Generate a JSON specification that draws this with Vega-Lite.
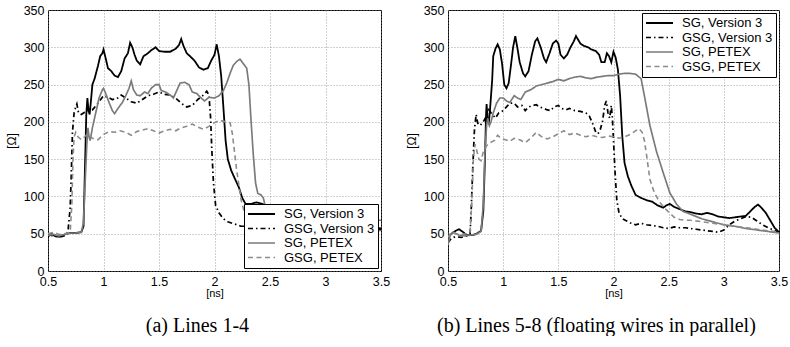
{
"$schema": "https://vega.github.io/schema/vega-lite/v6.json",
"autosize": {"type": "pad"},
"padding": {"left": 4, "top": 3, "right": 0, "bottom": 0},
"background": "white",
"config": {
  "font": "Liberation Sans",
  "view": {"stroke": "black", "strokeWidth": 1},
  "axis": {"grid": true, "gridColor": "#8a8a8a", "gridDash": [1, 2], "gridWidth": 0.8, "domain": false, "ticks": false, "labelFont": "Liberation Sans", "labelFontSize": 12.5, "labelColor": "black", "titleFont": "Liberation Sans", "titleFontWeight": "normal", "titleColor": "black", "labelOverlap": false, "labelFlush": false},
  "axisX": {"labelPadding": 4, "titleFontSize": 11, "titlePadding": 0},
  "axisY": {"labelPadding": 4, "titleFontSize": 12, "titlePadding": 5},
  "legend": {"title": null, "fillColor": "white", "strokeColor": "black", "padding": 3, "labelFont": "Liberation Sans", "labelFontSize": 13, "labelColor": "black", "symbolType": "stroke", "symbolSize": 729, "clipHeight": 14, "labelOffset": 8, "rowPadding": 0.5, "offset": 3},
  "title": {"font": "Liberation Serif", "fontSize": 20, "fontWeight": "normal", "color": "black"}
},
"datasets": {
"a": [
{"s":"SG, Version 3","t":0.5,"v":46},{"s":"SG, Version 3","t":0.53,"v":50},{"s":"SG, Version 3","t":0.56,"v":47},{"s":"SG, Version 3","t":0.6,"v":46},{"s":"SG, Version 3","t":0.65,"v":49},{"s":"SG, Version 3","t":0.7,"v":51},{"s":"SG, Version 3","t":0.75,"v":51},{"s":"SG, Version 3","t":0.8,"v":52},{"s":"SG, Version 3","t":0.82,"v":60},{"s":"SG, Version 3","t":0.835,"v":150},{"s":"SG, Version 3","t":0.845,"v":210},{"s":"SG, Version 3","t":0.855,"v":232},{"s":"SG, Version 3","t":0.865,"v":215},{"s":"SG, Version 3","t":0.875,"v":210},{"s":"SG, Version 3","t":0.885,"v":225},{"s":"SG, Version 3","t":0.9,"v":250},{"s":"SG, Version 3","t":0.92,"v":258},{"s":"SG, Version 3","t":0.95,"v":275},{"s":"SG, Version 3","t":0.97,"v":288},{"s":"SG, Version 3","t":0.99,"v":292},{"s":"SG, Version 3","t":1.0,"v":297},{"s":"SG, Version 3","t":1.02,"v":285},{"s":"SG, Version 3","t":1.04,"v":272},{"s":"SG, Version 3","t":1.07,"v":268},{"s":"SG, Version 3","t":1.1,"v":262},{"s":"SG, Version 3","t":1.13,"v":260},{"s":"SG, Version 3","t":1.16,"v":268},{"s":"SG, Version 3","t":1.19,"v":285},{"s":"SG, Version 3","t":1.22,"v":292},{"s":"SG, Version 3","t":1.24,"v":306},{"s":"SG, Version 3","t":1.26,"v":300},{"s":"SG, Version 3","t":1.28,"v":290},{"s":"SG, Version 3","t":1.3,"v":282},{"s":"SG, Version 3","t":1.33,"v":277},{"s":"SG, Version 3","t":1.36,"v":288},{"s":"SG, Version 3","t":1.4,"v":292},{"s":"SG, Version 3","t":1.43,"v":296},{"s":"SG, Version 3","t":1.47,"v":300},{"s":"SG, Version 3","t":1.5,"v":295},{"s":"SG, Version 3","t":1.55,"v":294},{"s":"SG, Version 3","t":1.6,"v":294},{"s":"SG, Version 3","t":1.65,"v":298},{"s":"SG, Version 3","t":1.68,"v":303},{"s":"SG, Version 3","t":1.7,"v":311},{"s":"SG, Version 3","t":1.72,"v":302},{"s":"SG, Version 3","t":1.75,"v":292},{"s":"SG, Version 3","t":1.78,"v":288},{"s":"SG, Version 3","t":1.82,"v":282},{"s":"SG, Version 3","t":1.86,"v":273},{"s":"SG, Version 3","t":1.9,"v":270},{"s":"SG, Version 3","t":1.94,"v":272},{"s":"SG, Version 3","t":1.97,"v":282},{"s":"SG, Version 3","t":2.0,"v":290},{"s":"SG, Version 3","t":2.02,"v":304},{"s":"SG, Version 3","t":2.04,"v":288},{"s":"SG, Version 3","t":2.06,"v":262},{"s":"SG, Version 3","t":2.08,"v":220},{"s":"SG, Version 3","t":2.1,"v":175},{"s":"SG, Version 3","t":2.12,"v":150},{"s":"SG, Version 3","t":2.15,"v":135},{"s":"SG, Version 3","t":2.18,"v":125},{"s":"SG, Version 3","t":2.22,"v":112},{"s":"SG, Version 3","t":2.25,"v":98},{"s":"SG, Version 3","t":2.28,"v":90},{"s":"SG, Version 3","t":2.33,"v":90},{"s":"SG, Version 3","t":2.38,"v":92},{"s":"SG, Version 3","t":2.43,"v":90},{"s":"SG, Version 3","t":2.5,"v":85},{"s":"SG, Version 3","t":2.7,"v":78},{"s":"SG, Version 3","t":2.9,"v":72},{"s":"SG, Version 3","t":3.1,"v":68},{"s":"SG, Version 3","t":3.3,"v":62},{"s":"SG, Version 3","t":3.5,"v":57},
{"s":"GSG, Version 3","t":0.5,"v":50},{"s":"GSG, Version 3","t":0.54,"v":47},{"s":"GSG, Version 3","t":0.58,"v":46},{"s":"GSG, Version 3","t":0.62,"v":46},{"s":"GSG, Version 3","t":0.66,"v":48},{"s":"GSG, Version 3","t":0.68,"v":53},{"s":"GSG, Version 3","t":0.7,"v":85},{"s":"GSG, Version 3","t":0.71,"v":130},{"s":"GSG, Version 3","t":0.72,"v":185},{"s":"GSG, Version 3","t":0.735,"v":212},{"s":"GSG, Version 3","t":0.75,"v":220},{"s":"GSG, Version 3","t":0.76,"v":224},{"s":"GSG, Version 3","t":0.775,"v":212},{"s":"GSG, Version 3","t":0.8,"v":210},{"s":"GSG, Version 3","t":0.83,"v":213},{"s":"GSG, Version 3","t":0.86,"v":215},{"s":"GSG, Version 3","t":0.9,"v":216},{"s":"GSG, Version 3","t":0.95,"v":225},{"s":"GSG, Version 3","t":1.0,"v":235},{"s":"GSG, Version 3","t":1.04,"v":233},{"s":"GSG, Version 3","t":1.08,"v":230},{"s":"GSG, Version 3","t":1.12,"v":231},{"s":"GSG, Version 3","t":1.16,"v":236},{"s":"GSG, Version 3","t":1.2,"v":232},{"s":"GSG, Version 3","t":1.25,"v":227},{"s":"GSG, Version 3","t":1.3,"v":225},{"s":"GSG, Version 3","t":1.35,"v":230},{"s":"GSG, Version 3","t":1.4,"v":235},{"s":"GSG, Version 3","t":1.45,"v":237},{"s":"GSG, Version 3","t":1.5,"v":240},{"s":"GSG, Version 3","t":1.55,"v":237},{"s":"GSG, Version 3","t":1.6,"v":236},{"s":"GSG, Version 3","t":1.65,"v":232},{"s":"GSG, Version 3","t":1.7,"v":225},{"s":"GSG, Version 3","t":1.75,"v":220},{"s":"GSG, Version 3","t":1.8,"v":222},{"s":"GSG, Version 3","t":1.85,"v":230},{"s":"GSG, Version 3","t":1.9,"v":236},{"s":"GSG, Version 3","t":1.93,"v":241},{"s":"GSG, Version 3","t":1.95,"v":236},{"s":"GSG, Version 3","t":1.965,"v":205},{"s":"GSG, Version 3","t":1.975,"v":165},{"s":"GSG, Version 3","t":1.99,"v":120},{"s":"GSG, Version 3","t":2.01,"v":88},{"s":"GSG, Version 3","t":2.04,"v":78},{"s":"GSG, Version 3","t":2.08,"v":70},{"s":"GSG, Version 3","t":2.12,"v":66},{"s":"GSG, Version 3","t":2.18,"v":63},{"s":"GSG, Version 3","t":2.24,"v":60},{"s":"GSG, Version 3","t":2.3,"v":60},{"s":"GSG, Version 3","t":2.5,"v":60},{"s":"GSG, Version 3","t":2.7,"v":58},{"s":"GSG, Version 3","t":2.9,"v":57},{"s":"GSG, Version 3","t":3.1,"v":56},{"s":"GSG, Version 3","t":3.3,"v":55},{"s":"GSG, Version 3","t":3.5,"v":55},
{"s":"SG, PETEX","t":0.5,"v":48},{"s":"SG, PETEX","t":0.55,"v":49},{"s":"SG, PETEX","t":0.6,"v":47},{"s":"SG, PETEX","t":0.65,"v":49},{"s":"SG, PETEX","t":0.7,"v":51},{"s":"SG, PETEX","t":0.75,"v":51},{"s":"SG, PETEX","t":0.8,"v":52},{"s":"SG, PETEX","t":0.82,"v":65},{"s":"SG, PETEX","t":0.835,"v":120},{"s":"SG, PETEX","t":0.85,"v":170},{"s":"SG, PETEX","t":0.86,"v":192},{"s":"SG, PETEX","t":0.87,"v":180},{"s":"SG, PETEX","t":0.88,"v":175},{"s":"SG, PETEX","t":0.9,"v":192},{"s":"SG, PETEX","t":0.93,"v":212},{"s":"SG, PETEX","t":0.96,"v":232},{"s":"SG, PETEX","t":0.99,"v":243},{"s":"SG, PETEX","t":1.0,"v":245},{"s":"SG, PETEX","t":1.02,"v":238},{"s":"SG, PETEX","t":1.05,"v":226},{"s":"SG, PETEX","t":1.08,"v":215},{"s":"SG, PETEX","t":1.1,"v":211},{"s":"SG, PETEX","t":1.13,"v":218},{"s":"SG, PETEX","t":1.17,"v":226},{"s":"SG, PETEX","t":1.2,"v":235},{"s":"SG, PETEX","t":1.23,"v":245},{"s":"SG, PETEX","t":1.25,"v":255},{"s":"SG, PETEX","t":1.27,"v":243},{"s":"SG, PETEX","t":1.3,"v":236},{"s":"SG, PETEX","t":1.33,"v":235},{"s":"SG, PETEX","t":1.37,"v":240},{"s":"SG, PETEX","t":1.4,"v":238},{"s":"SG, PETEX","t":1.43,"v":245},{"s":"SG, PETEX","t":1.47,"v":250},{"s":"SG, PETEX","t":1.5,"v":250},{"s":"SG, PETEX","t":1.52,"v":242},{"s":"SG, PETEX","t":1.56,"v":240},{"s":"SG, PETEX","t":1.6,"v":236},{"s":"SG, PETEX","t":1.63,"v":232},{"s":"SG, PETEX","t":1.66,"v":242},{"s":"SG, PETEX","t":1.69,"v":252},{"s":"SG, PETEX","t":1.73,"v":253},{"s":"SG, PETEX","t":1.77,"v":250},{"s":"SG, PETEX","t":1.8,"v":240},{"s":"SG, PETEX","t":1.84,"v":238},{"s":"SG, PETEX","t":1.88,"v":232},{"s":"SG, PETEX","t":1.91,"v":228},{"s":"SG, PETEX","t":1.95,"v":233},{"s":"SG, PETEX","t":2.0,"v":232},{"s":"SG, PETEX","t":2.04,"v":235},{"s":"SG, PETEX","t":2.08,"v":242},{"s":"SG, PETEX","t":2.11,"v":252},{"s":"SG, PETEX","t":2.14,"v":265},{"s":"SG, PETEX","t":2.17,"v":276},{"s":"SG, PETEX","t":2.2,"v":281},{"s":"SG, PETEX","t":2.23,"v":284},{"s":"SG, PETEX","t":2.26,"v":278},{"s":"SG, PETEX","t":2.29,"v":272},{"s":"SG, PETEX","t":2.31,"v":250},{"s":"SG, PETEX","t":2.33,"v":200},{"s":"SG, PETEX","t":2.35,"v":155},{"s":"SG, PETEX","t":2.37,"v":118},{"s":"SG, PETEX","t":2.39,"v":104},{"s":"SG, PETEX","t":2.42,"v":102},{"s":"SG, PETEX","t":2.44,"v":98},{"s":"SG, PETEX","t":2.46,"v":85},{"s":"SG, PETEX","t":2.5,"v":78},{"s":"SG, PETEX","t":2.7,"v":75},{"s":"SG, PETEX","t":2.9,"v":72},{"s":"SG, PETEX","t":3.1,"v":70},{"s":"SG, PETEX","t":3.3,"v":69},{"s":"SG, PETEX","t":3.5,"v":68},
{"s":"GSG, PETEX","t":0.5,"v":50},{"s":"GSG, PETEX","t":0.55,"v":52},{"s":"GSG, PETEX","t":0.6,"v":49},{"s":"GSG, PETEX","t":0.65,"v":50},{"s":"GSG, PETEX","t":0.7,"v":52},{"s":"GSG, PETEX","t":0.715,"v":90},{"s":"GSG, PETEX","t":0.725,"v":150},{"s":"GSG, PETEX","t":0.735,"v":180},{"s":"GSG, PETEX","t":0.75,"v":186},{"s":"GSG, PETEX","t":0.77,"v":180},{"s":"GSG, PETEX","t":0.8,"v":176},{"s":"GSG, PETEX","t":0.83,"v":180},{"s":"GSG, PETEX","t":0.86,"v":184},{"s":"GSG, PETEX","t":0.9,"v":178},{"s":"GSG, PETEX","t":0.95,"v":176},{"s":"GSG, PETEX","t":1.0,"v":183},{"s":"GSG, PETEX","t":1.05,"v":187},{"s":"GSG, PETEX","t":1.1,"v":186},{"s":"GSG, PETEX","t":1.15,"v":188},{"s":"GSG, PETEX","t":1.2,"v":186},{"s":"GSG, PETEX","t":1.25,"v":182},{"s":"GSG, PETEX","t":1.3,"v":187},{"s":"GSG, PETEX","t":1.35,"v":189},{"s":"GSG, PETEX","t":1.4,"v":191},{"s":"GSG, PETEX","t":1.45,"v":188},{"s":"GSG, PETEX","t":1.5,"v":185},{"s":"GSG, PETEX","t":1.55,"v":188},{"s":"GSG, PETEX","t":1.6,"v":190},{"s":"GSG, PETEX","t":1.65,"v":188},{"s":"GSG, PETEX","t":1.7,"v":192},{"s":"GSG, PETEX","t":1.75,"v":194},{"s":"GSG, PETEX","t":1.8,"v":197},{"s":"GSG, PETEX","t":1.85,"v":193},{"s":"GSG, PETEX","t":1.9,"v":190},{"s":"GSG, PETEX","t":1.95,"v":194},{"s":"GSG, PETEX","t":2.0,"v":199},{"s":"GSG, PETEX","t":2.05,"v":202},{"s":"GSG, PETEX","t":2.1,"v":200},{"s":"GSG, PETEX","t":2.14,"v":199},{"s":"GSG, PETEX","t":2.16,"v":185},{"s":"GSG, PETEX","t":2.18,"v":160},{"s":"GSG, PETEX","t":2.2,"v":135},{"s":"GSG, PETEX","t":2.22,"v":115},{"s":"GSG, PETEX","t":2.24,"v":95},{"s":"GSG, PETEX","t":2.27,"v":78},{"s":"GSG, PETEX","t":2.3,"v":68},{"s":"GSG, PETEX","t":2.35,"v":63},{"s":"GSG, PETEX","t":2.5,"v":60},{"s":"GSG, PETEX","t":2.7,"v":58},{"s":"GSG, PETEX","t":2.9,"v":57},{"s":"GSG, PETEX","t":3.1,"v":56},{"s":"GSG, PETEX","t":3.3,"v":55},{"s":"GSG, PETEX","t":3.5,"v":54}
],
"b": [
{"s":"SG, Version 3","t":0.5,"v":45},{"s":"SG, Version 3","t":0.53,"v":50},{"s":"SG, Version 3","t":0.57,"v":54},{"s":"SG, Version 3","t":0.6,"v":56},{"s":"SG, Version 3","t":0.63,"v":53},{"s":"SG, Version 3","t":0.67,"v":48},{"s":"SG, Version 3","t":0.72,"v":48},{"s":"SG, Version 3","t":0.76,"v":50},{"s":"SG, Version 3","t":0.8,"v":54},{"s":"SG, Version 3","t":0.82,"v":80},{"s":"SG, Version 3","t":0.835,"v":150},{"s":"SG, Version 3","t":0.845,"v":210},{"s":"SG, Version 3","t":0.85,"v":224},{"s":"SG, Version 3","t":0.86,"v":200},{"s":"SG, Version 3","t":0.87,"v":198},{"s":"SG, Version 3","t":0.88,"v":215},{"s":"SG, Version 3","t":0.9,"v":255},{"s":"SG, Version 3","t":0.91,"v":288},{"s":"SG, Version 3","t":0.93,"v":298},{"s":"SG, Version 3","t":0.95,"v":304},{"s":"SG, Version 3","t":0.97,"v":297},{"s":"SG, Version 3","t":0.99,"v":278},{"s":"SG, Version 3","t":1.01,"v":250},{"s":"SG, Version 3","t":1.03,"v":245},{"s":"SG, Version 3","t":1.05,"v":252},{"s":"SG, Version 3","t":1.07,"v":275},{"s":"SG, Version 3","t":1.09,"v":300},{"s":"SG, Version 3","t":1.11,"v":315},{"s":"SG, Version 3","t":1.13,"v":298},{"s":"SG, Version 3","t":1.15,"v":280},{"s":"SG, Version 3","t":1.18,"v":265},{"s":"SG, Version 3","t":1.2,"v":261},{"s":"SG, Version 3","t":1.23,"v":268},{"s":"SG, Version 3","t":1.26,"v":290},{"s":"SG, Version 3","t":1.29,"v":308},{"s":"SG, Version 3","t":1.31,"v":312},{"s":"SG, Version 3","t":1.34,"v":300},{"s":"SG, Version 3","t":1.37,"v":285},{"s":"SG, Version 3","t":1.39,"v":280},{"s":"SG, Version 3","t":1.42,"v":292},{"s":"SG, Version 3","t":1.45,"v":305},{"s":"SG, Version 3","t":1.48,"v":309},{"s":"SG, Version 3","t":1.5,"v":305},{"s":"SG, Version 3","t":1.52,"v":290},{"s":"SG, Version 3","t":1.55,"v":285},{"s":"SG, Version 3","t":1.58,"v":290},{"s":"SG, Version 3","t":1.61,"v":300},{"s":"SG, Version 3","t":1.64,"v":308},{"s":"SG, Version 3","t":1.66,"v":315},{"s":"SG, Version 3","t":1.68,"v":310},{"s":"SG, Version 3","t":1.7,"v":305},{"s":"SG, Version 3","t":1.73,"v":302},{"s":"SG, Version 3","t":1.77,"v":300},{"s":"SG, Version 3","t":1.8,"v":297},{"s":"SG, Version 3","t":1.84,"v":295},{"s":"SG, Version 3","t":1.87,"v":290},{"s":"SG, Version 3","t":1.89,"v":280},{"s":"SG, Version 3","t":1.92,"v":280},{"s":"SG, Version 3","t":1.94,"v":292},{"s":"SG, Version 3","t":1.96,"v":288},{"s":"SG, Version 3","t":1.98,"v":280},{"s":"SG, Version 3","t":2.0,"v":294},{"s":"SG, Version 3","t":2.02,"v":286},{"s":"SG, Version 3","t":2.04,"v":270},{"s":"SG, Version 3","t":2.06,"v":235},{"s":"SG, Version 3","t":2.08,"v":180},{"s":"SG, Version 3","t":2.1,"v":145},{"s":"SG, Version 3","t":2.13,"v":127},{"s":"SG, Version 3","t":2.16,"v":115},{"s":"SG, Version 3","t":2.2,"v":102},{"s":"SG, Version 3","t":2.25,"v":98},{"s":"SG, Version 3","t":2.3,"v":95},{"s":"SG, Version 3","t":2.35,"v":93},{"s":"SG, Version 3","t":2.4,"v":88},{"s":"SG, Version 3","t":2.45,"v":85},{"s":"SG, Version 3","t":2.48,"v":88},{"s":"SG, Version 3","t":2.51,"v":90},{"s":"SG, Version 3","t":2.55,"v":86},{"s":"SG, Version 3","t":2.6,"v":83},{"s":"SG, Version 3","t":2.65,"v":80},{"s":"SG, Version 3","t":2.7,"v":79},{"s":"SG, Version 3","t":2.75,"v":77},{"s":"SG, Version 3","t":2.8,"v":76},{"s":"SG, Version 3","t":2.85,"v":78},{"s":"SG, Version 3","t":2.9,"v":76},{"s":"SG, Version 3","t":2.95,"v":73},{"s":"SG, Version 3","t":3.0,"v":72},{"s":"SG, Version 3","t":3.05,"v":71},{"s":"SG, Version 3","t":3.1,"v":72},{"s":"SG, Version 3","t":3.15,"v":73},{"s":"SG, Version 3","t":3.2,"v":74},{"s":"SG, Version 3","t":3.24,"v":80},{"s":"SG, Version 3","t":3.28,"v":86},{"s":"SG, Version 3","t":3.31,"v":89},{"s":"SG, Version 3","t":3.34,"v":85},{"s":"SG, Version 3","t":3.38,"v":78},{"s":"SG, Version 3","t":3.42,"v":68},{"s":"SG, Version 3","t":3.46,"v":58},{"s":"SG, Version 3","t":3.5,"v":52},
{"s":"GSG, Version 3","t":0.5,"v":38},{"s":"GSG, Version 3","t":0.53,"v":44},{"s":"GSG, Version 3","t":0.57,"v":46},{"s":"GSG, Version 3","t":0.62,"v":45},{"s":"GSG, Version 3","t":0.67,"v":47},{"s":"GSG, Version 3","t":0.7,"v":50},{"s":"GSG, Version 3","t":0.71,"v":80},{"s":"GSG, Version 3","t":0.725,"v":140},{"s":"GSG, Version 3","t":0.74,"v":190},{"s":"GSG, Version 3","t":0.755,"v":210},{"s":"GSG, Version 3","t":0.77,"v":198},{"s":"GSG, Version 3","t":0.79,"v":195},{"s":"GSG, Version 3","t":0.82,"v":200},{"s":"GSG, Version 3","t":0.85,"v":208},{"s":"GSG, Version 3","t":0.87,"v":216},{"s":"GSG, Version 3","t":0.9,"v":210},{"s":"GSG, Version 3","t":0.93,"v":205},{"s":"GSG, Version 3","t":0.96,"v":212},{"s":"GSG, Version 3","t":1.0,"v":215},{"s":"GSG, Version 3","t":1.03,"v":220},{"s":"GSG, Version 3","t":1.06,"v":225},{"s":"GSG, Version 3","t":1.1,"v":225},{"s":"GSG, Version 3","t":1.13,"v":220},{"s":"GSG, Version 3","t":1.17,"v":222},{"s":"GSG, Version 3","t":1.2,"v":215},{"s":"GSG, Version 3","t":1.23,"v":220},{"s":"GSG, Version 3","t":1.27,"v":222},{"s":"GSG, Version 3","t":1.3,"v":223},{"s":"GSG, Version 3","t":1.33,"v":220},{"s":"GSG, Version 3","t":1.37,"v":218},{"s":"GSG, Version 3","t":1.4,"v":216},{"s":"GSG, Version 3","t":1.43,"v":215},{"s":"GSG, Version 3","t":1.46,"v":220},{"s":"GSG, Version 3","t":1.5,"v":222},{"s":"GSG, Version 3","t":1.53,"v":218},{"s":"GSG, Version 3","t":1.57,"v":216},{"s":"GSG, Version 3","t":1.6,"v":218},{"s":"GSG, Version 3","t":1.65,"v":215},{"s":"GSG, Version 3","t":1.7,"v":214},{"s":"GSG, Version 3","t":1.75,"v":212},{"s":"GSG, Version 3","t":1.78,"v":208},{"s":"GSG, Version 3","t":1.81,"v":198},{"s":"GSG, Version 3","t":1.84,"v":186},{"s":"GSG, Version 3","t":1.86,"v":184},{"s":"GSG, Version 3","t":1.88,"v":190},{"s":"GSG, Version 3","t":1.9,"v":200},{"s":"GSG, Version 3","t":1.92,"v":222},{"s":"GSG, Version 3","t":1.935,"v":228},{"s":"GSG, Version 3","t":1.95,"v":212},{"s":"GSG, Version 3","t":1.965,"v":205},{"s":"GSG, Version 3","t":1.98,"v":222},{"s":"GSG, Version 3","t":1.99,"v":205},{"s":"GSG, Version 3","t":2.0,"v":175},{"s":"GSG, Version 3","t":2.015,"v":130},{"s":"GSG, Version 3","t":2.03,"v":95},{"s":"GSG, Version 3","t":2.05,"v":78},{"s":"GSG, Version 3","t":2.08,"v":70},{"s":"GSG, Version 3","t":2.12,"v":67},{"s":"GSG, Version 3","t":2.16,"v":64},{"s":"GSG, Version 3","t":2.2,"v":62},{"s":"GSG, Version 3","t":2.25,"v":64},{"s":"GSG, Version 3","t":2.3,"v":62},{"s":"GSG, Version 3","t":2.35,"v":61},{"s":"GSG, Version 3","t":2.4,"v":60},{"s":"GSG, Version 3","t":2.45,"v":58},{"s":"GSG, Version 3","t":2.5,"v":57},{"s":"GSG, Version 3","t":2.55,"v":59},{"s":"GSG, Version 3","t":2.6,"v":58},{"s":"GSG, Version 3","t":2.65,"v":58},{"s":"GSG, Version 3","t":2.7,"v":57},{"s":"GSG, Version 3","t":2.75,"v":56},{"s":"GSG, Version 3","t":2.8,"v":55},{"s":"GSG, Version 3","t":2.85,"v":54},{"s":"GSG, Version 3","t":2.9,"v":53},{"s":"GSG, Version 3","t":2.95,"v":52},{"s":"GSG, Version 3","t":3.0,"v":55},{"s":"GSG, Version 3","t":3.05,"v":62},{"s":"GSG, Version 3","t":3.1,"v":67},{"s":"GSG, Version 3","t":3.15,"v":70},{"s":"GSG, Version 3","t":3.2,"v":73},{"s":"GSG, Version 3","t":3.25,"v":72},{"s":"GSG, Version 3","t":3.3,"v":67},{"s":"GSG, Version 3","t":3.35,"v":62},{"s":"GSG, Version 3","t":3.4,"v":58},{"s":"GSG, Version 3","t":3.45,"v":55},{"s":"GSG, Version 3","t":3.5,"v":52},
{"s":"SG, PETEX","t":0.5,"v":35},{"s":"SG, PETEX","t":0.52,"v":48},{"s":"SG, PETEX","t":0.55,"v":52},{"s":"SG, PETEX","t":0.6,"v":48},{"s":"SG, PETEX","t":0.65,"v":47},{"s":"SG, PETEX","t":0.7,"v":48},{"s":"SG, PETEX","t":0.75,"v":49},{"s":"SG, PETEX","t":0.8,"v":53},{"s":"SG, PETEX","t":0.82,"v":90},{"s":"SG, PETEX","t":0.835,"v":160},{"s":"SG, PETEX","t":0.85,"v":195},{"s":"SG, PETEX","t":0.86,"v":205},{"s":"SG, PETEX","t":0.875,"v":195},{"s":"SG, PETEX","t":0.89,"v":200},{"s":"SG, PETEX","t":0.91,"v":212},{"s":"SG, PETEX","t":0.94,"v":225},{"s":"SG, PETEX","t":0.97,"v":232},{"s":"SG, PETEX","t":1.0,"v":232},{"s":"SG, PETEX","t":1.03,"v":228},{"s":"SG, PETEX","t":1.06,"v":226},{"s":"SG, PETEX","t":1.1,"v":235},{"s":"SG, PETEX","t":1.13,"v":232},{"s":"SG, PETEX","t":1.16,"v":230},{"s":"SG, PETEX","t":1.2,"v":240},{"s":"SG, PETEX","t":1.25,"v":243},{"s":"SG, PETEX","t":1.3,"v":248},{"s":"SG, PETEX","t":1.35,"v":250},{"s":"SG, PETEX","t":1.4,"v":252},{"s":"SG, PETEX","t":1.45,"v":254},{"s":"SG, PETEX","t":1.5,"v":257},{"s":"SG, PETEX","t":1.55,"v":255},{"s":"SG, PETEX","t":1.6,"v":258},{"s":"SG, PETEX","t":1.65,"v":260},{"s":"SG, PETEX","t":1.7,"v":261},{"s":"SG, PETEX","t":1.75,"v":259},{"s":"SG, PETEX","t":1.8,"v":258},{"s":"SG, PETEX","t":1.85,"v":260},{"s":"SG, PETEX","t":1.9,"v":261},{"s":"SG, PETEX","t":1.95,"v":262},{"s":"SG, PETEX","t":2.0,"v":262},{"s":"SG, PETEX","t":2.05,"v":264},{"s":"SG, PETEX","t":2.1,"v":265},{"s":"SG, PETEX","t":2.15,"v":265},{"s":"SG, PETEX","t":2.2,"v":264},{"s":"SG, PETEX","t":2.25,"v":258},{"s":"SG, PETEX","t":2.28,"v":235},{"s":"SG, PETEX","t":2.33,"v":195},{"s":"SG, PETEX","t":2.39,"v":160},{"s":"SG, PETEX","t":2.45,"v":132},{"s":"SG, PETEX","t":2.51,"v":105},{"s":"SG, PETEX","t":2.57,"v":90},{"s":"SG, PETEX","t":2.63,"v":80},{"s":"SG, PETEX","t":2.7,"v":76},{"s":"SG, PETEX","t":2.75,"v":73},{"s":"SG, PETEX","t":2.8,"v":70},{"s":"SG, PETEX","t":2.85,"v":68},{"s":"SG, PETEX","t":2.9,"v":66},{"s":"SG, PETEX","t":2.95,"v":64},{"s":"SG, PETEX","t":3.0,"v":62},{"s":"SG, PETEX","t":3.1,"v":60},{"s":"SG, PETEX","t":3.2,"v":57},{"s":"SG, PETEX","t":3.3,"v":55},{"s":"SG, PETEX","t":3.4,"v":53},{"s":"SG, PETEX","t":3.5,"v":51},
{"s":"GSG, PETEX","t":0.5,"v":45},{"s":"GSG, PETEX","t":0.53,"v":52},{"s":"GSG, PETEX","t":0.57,"v":50},{"s":"GSG, PETEX","t":0.62,"v":49},{"s":"GSG, PETEX","t":0.67,"v":50},{"s":"GSG, PETEX","t":0.7,"v":52},{"s":"GSG, PETEX","t":0.715,"v":90},{"s":"GSG, PETEX","t":0.73,"v":150},{"s":"GSG, PETEX","t":0.745,"v":170},{"s":"GSG, PETEX","t":0.76,"v":162},{"s":"GSG, PETEX","t":0.78,"v":150},{"s":"GSG, PETEX","t":0.8,"v":148},{"s":"GSG, PETEX","t":0.82,"v":160},{"s":"GSG, PETEX","t":0.85,"v":168},{"s":"GSG, PETEX","t":0.88,"v":172},{"s":"GSG, PETEX","t":0.92,"v":175},{"s":"GSG, PETEX","t":0.95,"v":182},{"s":"GSG, PETEX","t":0.98,"v":178},{"s":"GSG, PETEX","t":1.02,"v":176},{"s":"GSG, PETEX","t":1.06,"v":174},{"s":"GSG, PETEX","t":1.1,"v":178},{"s":"GSG, PETEX","t":1.15,"v":176},{"s":"GSG, PETEX","t":1.2,"v":172},{"s":"GSG, PETEX","t":1.25,"v":178},{"s":"GSG, PETEX","t":1.3,"v":186},{"s":"GSG, PETEX","t":1.35,"v":180},{"s":"GSG, PETEX","t":1.4,"v":177},{"s":"GSG, PETEX","t":1.45,"v":180},{"s":"GSG, PETEX","t":1.5,"v":184},{"s":"GSG, PETEX","t":1.55,"v":188},{"s":"GSG, PETEX","t":1.6,"v":183},{"s":"GSG, PETEX","t":1.65,"v":185},{"s":"GSG, PETEX","t":1.7,"v":182},{"s":"GSG, PETEX","t":1.75,"v":180},{"s":"GSG, PETEX","t":1.8,"v":182},{"s":"GSG, PETEX","t":1.85,"v":180},{"s":"GSG, PETEX","t":1.9,"v":179},{"s":"GSG, PETEX","t":1.95,"v":181},{"s":"GSG, PETEX","t":2.0,"v":180},{"s":"GSG, PETEX","t":2.05,"v":178},{"s":"GSG, PETEX","t":2.1,"v":180},{"s":"GSG, PETEX","t":2.15,"v":183},{"s":"GSG, PETEX","t":2.2,"v":188},{"s":"GSG, PETEX","t":2.23,"v":191},{"s":"GSG, PETEX","t":2.26,"v":186},{"s":"GSG, PETEX","t":2.28,"v":175},{"s":"GSG, PETEX","t":2.3,"v":155},{"s":"GSG, PETEX","t":2.33,"v":123},{"s":"GSG, PETEX","t":2.37,"v":105},{"s":"GSG, PETEX","t":2.42,"v":92},{"s":"GSG, PETEX","t":2.46,"v":85},{"s":"GSG, PETEX","t":2.5,"v":79},{"s":"GSG, PETEX","t":2.55,"v":72},{"s":"GSG, PETEX","t":2.6,"v":69},{"s":"GSG, PETEX","t":2.65,"v":68},{"s":"GSG, PETEX","t":2.7,"v":68},{"s":"GSG, PETEX","t":2.8,"v":66},{"s":"GSG, PETEX","t":2.9,"v":64},{"s":"GSG, PETEX","t":3.0,"v":62},{"s":"GSG, PETEX","t":3.1,"v":60},{"s":"GSG, PETEX","t":3.2,"v":58},{"s":"GSG, PETEX","t":3.3,"v":56},{"s":"GSG, PETEX","t":3.4,"v":54},{"s":"GSG, PETEX","t":3.5,"v":52}
]
},
"spacing": 67,
"bounds": "flush",
"resolve": {"legend": {"color": "independent", "strokeDash": "independent", "strokeWidth": "independent"}},
"hconcat": [
{
  "width": 333, "height": 261,
  "data": {"name": "a"},
  "title": {"text": "(a) Lines 1-4", "orient": "bottom", "anchor": "middle", "frame": "bounds", "offset": 17},
  "mark": {"type": "line", "clip": true},
  "encoding": {
    "x": {"field": "t", "type": "quantitative", "scale": {"domain": [0.5, 3.5], "nice": false, "zero": false}, "axis": {"title": "[ns]", "values": [0.5, 1, 1.5, 2, 2.5, 3, 3.5], "format": "~g"}},
    "y": {"field": "v", "type": "quantitative", "scale": {"domain": [0, 350], "nice": false}, "axis": {"title": "[Ω]", "values": [0, 50, 100, 150, 200, 250, 300, 350]}},
    "color": {"field": "s", "type": "nominal", "scale": {"domain": ["SG, Version 3", "GSG, Version 3", "SG, PETEX", "GSG, PETEX"], "range": ["#000000", "#000000", "#7a7a7a", "#8c8c8c"]}, "legend": {"orient": "bottom-right"}},
    "strokeDash": {"field": "s", "type": "nominal", "scale": {"domain": ["SG, Version 3", "GSG, Version 3", "SG, PETEX", "GSG, PETEX"], "range": [[1, 0], [5, 3, 1.5, 3], [1, 0], [5, 3.5]]}, "legend": {"orient": "bottom-right"}},
    "strokeWidth": {"field": "s", "type": "nominal", "scale": {"domain": ["SG, Version 3", "GSG, Version 3", "SG, PETEX", "GSG, PETEX"], "range": [1.8, 1.6, 2, 1.6]}, "legend": {"orient": "bottom-right"}}
  }
},
{
  "width": 331, "height": 261,
  "data": {"name": "b"},
  "title": {"text": "(b) Lines 5-8 (floating wires in parallel)", "orient": "bottom", "anchor": "middle", "frame": "bounds", "offset": 17},
  "mark": {"type": "line", "clip": true},
  "encoding": {
    "x": {"field": "t", "type": "quantitative", "scale": {"domain": [0.5, 3.5], "nice": false, "zero": false}, "axis": {"title": "[ns]", "values": [0.5, 1, 1.5, 2, 2.5, 3, 3.5], "format": "~g"}},
    "y": {"field": "v", "type": "quantitative", "scale": {"domain": [0, 350], "nice": false}, "axis": {"title": "[Ω]", "values": [0, 50, 100, 150, 200, 250, 300, 350]}},
    "color": {"field": "s", "type": "nominal", "scale": {"domain": ["SG, Version 3", "GSG, Version 3", "SG, PETEX", "GSG, PETEX"], "range": ["#000000", "#000000", "#7a7a7a", "#8c8c8c"]}, "legend": {"orient": "top-right"}},
    "strokeDash": {"field": "s", "type": "nominal", "scale": {"domain": ["SG, Version 3", "GSG, Version 3", "SG, PETEX", "GSG, PETEX"], "range": [[1, 0], [5, 3, 1.5, 3], [1, 0], [5, 3.5]]}, "legend": {"orient": "top-right"}},
    "strokeWidth": {"field": "s", "type": "nominal", "scale": {"domain": ["SG, Version 3", "GSG, Version 3", "SG, PETEX", "GSG, PETEX"], "range": [1.8, 1.6, 2, 1.6]}, "legend": {"orient": "top-right"}}
  }
}
]
}
